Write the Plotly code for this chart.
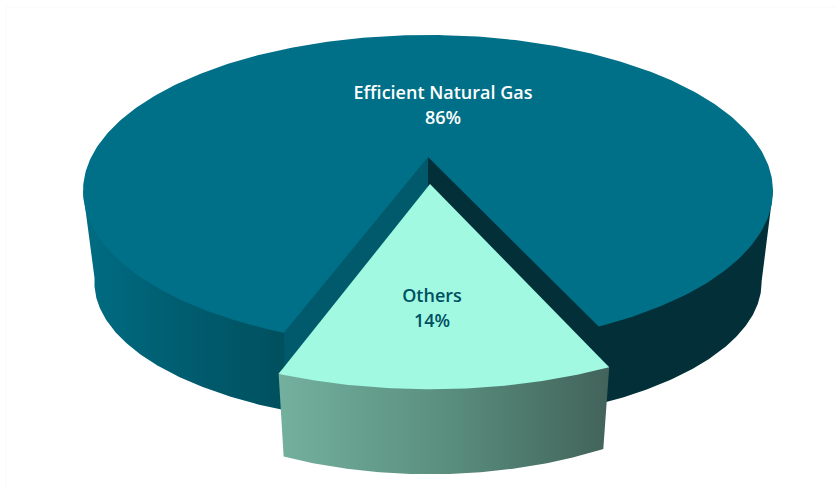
import numpy as np
import plotly.graph_objects as go

categories = ["Efficient Natural Gas", "Others"]
shares = [86, 14]

# projection of the tilted, perspective pie onto the 837x488 page
CX, CY = 428.0, 157.0
RX, A, B = 336.7, 148.6, 0.218
SPAN_SCALE = 0.87          # foreshortening of the wedge in the source's perspective
CUT_LEFT = -19.9           # degrees from the viewer-facing direction
EDGE = 77.4                # where the rim is widest on screen

span = shares[1] * 3.6 * SPAN_SCALE
t0, t1 = CUT_LEFT, CUT_LEFT + span


def top(theta):
    th = np.radians(np.atleast_1d(theta))
    s, t = np.sin(th), np.cos(th)
    d = 1 - B * t
    return RX * s / d, A * t / d, t


def main_top(theta):
    u, v, _ = top(theta)
    return CX + u, CY + v


def main_bottom(theta):
    u, v, t = top(theta)
    return CX + u * (0.96 + 0.03 * t), CY + v + (90 - 13 * t)


def slice_top(theta):
    u, v, _ = top(theta)
    return 430 + u * 1.05, 184 + v * 1.08


def slice_bottom(theta):
    x, y = slice_top(theta)
    t = np.cos(np.radians(np.atleast_1d(theta)))
    return 430 + (x - 430) * 0.967, y + 85 - 37 * (1 - t)


def face(fig, xs, ys, color=None, gradient=None):
    kw = dict(fillgradient=gradient) if gradient else dict(fillcolor=color)
    fig.add_trace(go.Scatter(x=xs, y=ys, mode="lines", fill="toself",
                             line=dict(width=0, color="rgba(0,0,0,0)"),
                             hoverinfo="skip", showlegend=False, **kw))


def wall(fig, a, b, top_fn, bottom_fn, cx, cy, color=None, gradient=None):
    # the upper edge runs slightly under the top face so no seam shows
    th = np.linspace(a, b, 120)
    x1, y1 = top_fn(th)
    x2, y2 = bottom_fn(th)
    xi, yi = cx + (x1 - cx) * 0.98, cy + (y1 - cy) * 0.98
    xs = np.r_[x1[0], xi, x1[-1], x2[::-1], x1[0]]
    ys = np.r_[y1[0], yi, y1[-1], y2[::-1], y1[0]]
    face(fig, xs, ys, color, gradient)


fig = go.Figure()

# outer walls of the large slice
wall(fig, -EDGE, t0 + 1, main_top, main_bottom, CX, CY, gradient=dict(
    type="horizontal",
    colorscale=[[0, "#006c82"], [0.5, "#005c6f"], [0.93, "#00515f"], [1, "#004c5a"]]))
wall(fig, t1 - 1, EDGE, main_top, main_bottom, CX, CY, color="#022f38")

# inner cut walls
ax, ay = np.array([CX]), np.array([CY])
lx, ly = main_top(t0)
lbx, lby = main_bottom(t0)
rx, ry = main_top(t1)
rbx, rby = main_bottom(t1)
face(fig, np.r_[ax - 1, ax - 1, rx, rx, rbx, ax - 1], np.r_[ay + 90, ay - 3, ry - 3, ry, rby, ay + 90], "#022f38")
face(fig, np.r_[ax, ax, lx, lx, lbx, ax], np.r_[ay + 90, ay - 3, ly - 3, ly, lby, ay + 90], "#005a6c")

# top of the large slice
th = np.linspace(t1, 360 + t0, 400)
x, y = main_top(th)
face(fig, np.r_[ax, x, ax], np.r_[ay, y, ay], "#007088")

# exploded slice
wall(fig, t0, t1, slice_top, slice_bottom, 430, 184, gradient=dict(
    type="horizontal", colorscale=[[0, "#74b09e"], [0.5, "#5a8f7f"], [1, "#42635a"]]))
th = np.linspace(t0, t1, 80)
x, y = slice_top(th)
face(fig, np.r_[430, x, 430], np.r_[184, y, 184], "#a0f9e0")

# labels
label_x = [443, 443, 432, 432]
label_y = [94, 119, 297, 322]
label_text = [categories[0], f"{shares[0]}%", categories[1], f"{shares[1]}%"]
label_col = ["#ffffff", "#ffffff", "#004f63", "#004f63"]
fig.add_trace(go.Scatter(x=label_x, y=label_y, mode="text", text=label_text,
                         textposition="middle center",
                         textfont=dict(family="Open Sans", size=18, weight=600, color=label_col),
                         hoverinfo="skip", showlegend=False))

fig.update_layout(
    width=837, height=488, margin=dict(l=0, r=0, t=0, b=0),
    paper_bgcolor="#ffffff", plot_bgcolor="#ffffff",
    xaxis=dict(range=[0, 837], visible=False),
    yaxis=dict(range=[488, 0], visible=False),
    shapes=[dict(type="rect", xref="x", yref="y", x0=6, y0=7, x1=860, y1=520,
                 line=dict(color="#fafafa", width=1), layer="below")],
)
fig.write_html("out.html", config={"displayModeBar": False},
               post_script="document.body.style.margin='0';document.documentElement.style.overflow='hidden';")
